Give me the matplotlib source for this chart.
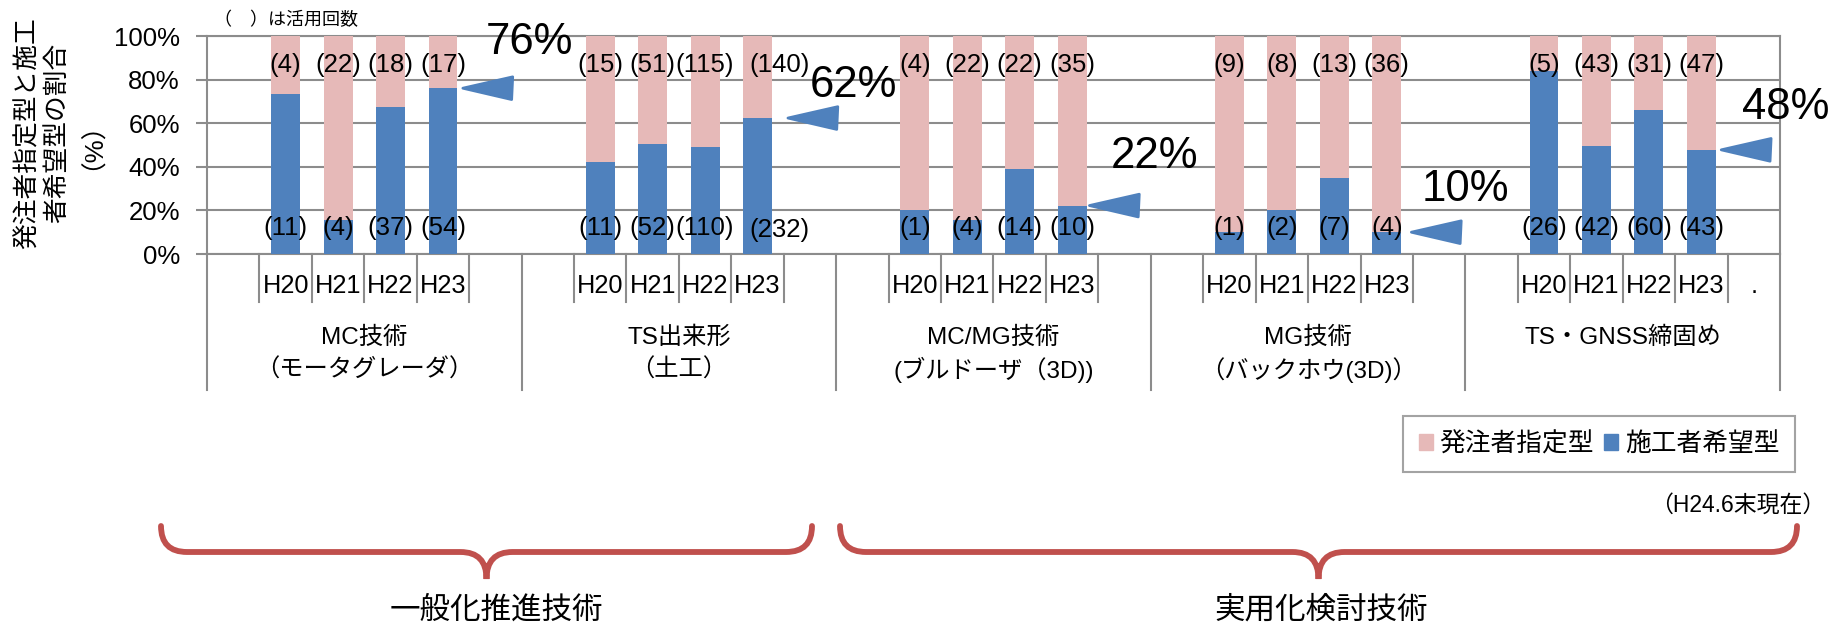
import matplotlib
matplotlib.use('Agg')
import matplotlib.pyplot as plt
import matplotlib.transforms as mtransforms
from matplotlib.patches import Polygon, PathPatch
from matplotlib.path import Path

plt.rcParams['font.family'] = ['Liberation Sans', 'Noto Sans CJK JP']

################## Datos
grupo_l1 = ['MC技術', 'TS出来形', 'MC/MG技術', 'MG技術', 'TS・GNSS締固め']
grupo_l2 = ['（モータグレーダ）', '（土工）', '(ブルドーザ（3D))', '（バックホウ(3D)）', '']
anios = ['H20', 'H21', 'H22', 'H23']
extra = ['', '', '', '', '.']          # etiqueta del hueco final de cada grupo

# (activos) 発注者指定型 / 施工者希望型
shitei = [[4, 22, 18, 17], [15, 51, 115, 140], [4, 22, 22, 35], [9, 8, 13, 36], [5, 43, 31, 47]]
kibou = [[11, 4, 37, 54], [11, 52, 110, 232], [1, 4, 14, 10], [1, 2, 7, 4], [26, 42, 60, 43]]

AZUL = '#4F81BD'
ROSA = '#E6B9B8'
GRIS = '#8c8c8c'
ROJO = '#C0504D'

fig = plt.figure(figsize=(18.33, 6.26), dpi=100, facecolor='w')
ax = fig.add_axes([207/1833, 1-254/626, (1780-207)/1833, 218/626])

################## Barras (100% apiladas)
for g in range(len(grupo_l1)):
    for j in range(len(anios)):
        x = g*6 + 1.5 + j
        tot = shitei[g][j] + kibou[g][j]
        p_az = kibou[g][j] / tot * 100
        ax.bar(x, p_az, width=0.55, color=AZUL, zorder=3)
        ax.bar(x, 100 - p_az, bottom=p_az, width=0.55, color=ROSA, zorder=3)
        dx = 0.42 if (g == 1 and j == 3) else 0   # (140) y (232) corridos a la derecha
        dy = -1 if (g == 1 and j == 3) else 0
        ax.text(x + dx, 86.7, '(%d)' % shitei[g][j], ha='center', va='center', fontsize=18.5, zorder=4)
        ax.text(x + dx, 11.9 + dy, '(%d)' % kibou[g][j], ha='center', va='center', fontsize=18.5, zorder=4)

ax.set_xlim(0, 30)
ax.set_ylim(0, 100)
ax.set_yticks(range(0, 101, 20))
ax.set_yticklabels(['%d%%' % v for v in range(0, 101, 20)])
ax.yaxis.grid(True, color=GRIS, lw=1.5, zorder=0)
ax.set_axisbelow(True)
ax.set_xticks([])
ax.tick_params(axis='y', length=8, width=1.5, color=GRIS, labelsize=18.5, pad=11.5)
for s in ax.spines.values():
    s.set_color(GRIS)
    s.set_linewidth(1.5)

################## Eje de categorias (dos niveles)
trans = mtransforms.blended_transform_factory(ax.transData, ax.transAxes)
for b in range(31):
    y_fin = -0.624 if b % 6 == 0 else -0.22
    ax.plot([b, b], [0, y_fin], color=GRIS, lw=1.5, transform=trans, clip_on=False)
for g in range(len(grupo_l1)):
    for j in range(len(anios)):
        ax.text(g*6 + 1.5 + j, -0.147, anios[j], ha='center', va='center',
                fontsize=18.3, transform=trans)
    ax.text(g*6 + 5.5, -0.147, extra[g], ha='center', va='center', fontsize=18.3, transform=trans)
    ax.text(g*6 + 3, -0.385, grupo_l1[g], ha='center', va='center', fontsize=17.5, transform=trans)
    ax.text(g*6 + 3, -0.532, grupo_l2[g], ha='center', va='center', fontsize=17.5, transform=trans)

################## Flechas y porcentaje H23
flecha_dx = [0.38, 0.58, 0.33, 0.47, 0.38]
pos_pct = [(6.14, 96.8), (12.32, 77.5), (18.07, 44.5), (24.0, 29.4), (30.1, 67)]
for g in range(len(grupo_l1)):
    p23 = kibou[g][3] / (kibou[g][3] + shitei[g][3]) * 100
    xt = g*6 + 4.5 + flecha_dx[g]
    tri = Polygon([(xt, p23), (xt + 0.95, p23 + 5.2), (xt + 0.93, p23 - 5.2)], closed=True,
                  facecolor=AZUL, edgecolor=AZUL, lw=2, joinstyle='round', clip_on=False, zorder=5)
    ax.add_patch(tri)
    ax.text(pos_pct[g][0], pos_pct[g][1], '%d%%' % round(p23), ha='center', va='center',
            fontsize=31.5, clip_on=False, zorder=5)

################## Textos sueltos
fig.text(214/1833, 1-20/626, '（　）は活用回数', ha='left', va='center', fontsize=13)
ylab = ['発注者指定型と施工', '者希望型の割合', '（%）']
for k, xx in enumerate([28, 57, 79]):
    fig.text(xx/1833, 1-133/626, ylab[k], rotation=90, ha='center', va='center', fontsize=18.5)
fig.text(1825/1833, 1-505/626, '（H24.6末現在）', ha='right', va='center', fontsize=16.5)

h1 = plt.Rectangle((0, 0), 1, 1, color=ROSA)
h2 = plt.Rectangle((0, 0), 1, 1, color=AZUL)
leg = fig.legend([h1, h2], ['発注者指定型', '施工者希望型'], loc='center',
                 bbox_to_anchor=(1599/1833, 1-444/626), ncol=2, fontsize=18.5,
                 frameon=True, fancybox=False, edgecolor=GRIS, handlelength=0.55,
                 handleheight=0.55, handletextpad=0.25, columnspacing=0.4, borderpad=0.6)
leg.get_frame().set_linewidth(1.5)

################## Llaves
ov = fig.add_axes([0, 0, 1, 1], zorder=-1)
ov.set_xlim(0, 1833)
ov.set_ylim(626, 0)
ov.axis('off')

def llave(x0, x1, yt=526, yh=552, yp=579, r=26):
    xm = (x0 + x1) / 2
    v = [(x0, yt), (x0, yh), (x0 + r, yh), (xm - r, yh), (xm, yh), (xm, yp),
         (xm, yh), (xm + r, yh), (x1 - r, yh), (x1, yh), (x1, yt)]
    c = [Path.MOVETO, Path.CURVE3, Path.CURVE3, Path.LINETO, Path.CURVE3, Path.CURVE3,
         Path.CURVE3, Path.CURVE3, Path.LINETO, Path.CURVE3, Path.CURVE3]
    ov.add_patch(PathPatch(Path(v, c), facecolor='none', edgecolor=ROJO, lw=4.2, capstyle='round'))

llave(161, 812)
llave(840, 1797)
fig.text(496/1833, 1-611/626, '一般化推進技術', ha='center', va='center', fontsize=22)
fig.text(1321/1833, 1-611/626, '実用化検討技術', ha='center', va='center', fontsize=22)

plt.savefig('out.png', dpi=100)
